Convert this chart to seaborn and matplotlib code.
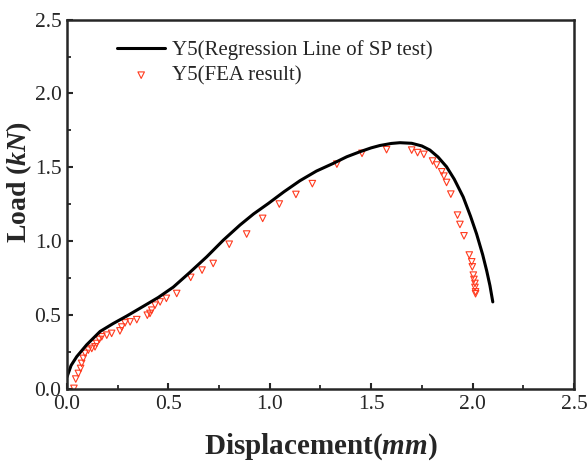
import numpy as np
import pandas as pd
import matplotlib
matplotlib.use("Agg")
import matplotlib.pyplot as plt
from matplotlib.ticker import MultipleLocator
import seaborn as sns

# Regression line of SP test (Y5)
line_x = [0.0, 0.02, 0.048, 0.097, 0.163, 0.228, 0.294, 0.376, 0.45, 0.524, 0.606,
          0.689, 0.771, 0.853, 0.92, 0.993, 1.07, 1.149, 1.23, 1.313, 1.38, 1.445,
          1.50, 1.543, 1.60, 1.642, 1.70, 1.75, 1.79, 1.83, 1.872, 1.91, 1.954,
          1.99, 2.02, 2.05, 2.07, 2.086, 2.10]
line_y = [0.083, 0.16, 0.22, 0.30, 0.39, 0.444, 0.494, 0.56, 0.62, 0.69, 0.79,
          0.895, 1.008, 1.11, 1.185, 1.256, 1.335, 1.41, 1.475, 1.527, 1.572, 1.606,
          1.632, 1.648, 1.662, 1.667, 1.663, 1.645, 1.617, 1.57, 1.504, 1.42, 1.30,
          1.17, 1.05, 0.91, 0.80, 0.70, 0.59]

# FEA result (Y5)
fea_x = [0.034, 0.043, 0.056, 0.067, 0.072, 0.080, 0.089, 0.105, 0.122, 0.138, 0.146,
         0.159, 0.171, 0.196, 0.22, 0.261, 0.27, 0.286, 0.311, 0.344, 0.396, 0.409,
         0.418, 0.434, 0.459, 0.49, 0.541, 0.61, 0.666, 0.721, 0.80, 0.886, 0.965,
         1.047, 1.129, 1.21, 1.331, 1.455, 1.576, 1.70, 1.729, 1.76, 1.803, 1.823,
         1.848, 1.859, 1.872, 1.893, 1.926, 1.938, 1.958, 1.984, 1.996, 1.999, 2.004,
         2.007, 2.012, 2.012, 2.015, 2.015]
fea_y = [0.005, 0.068, 0.106, 0.14, 0.174, 0.208, 0.242, 0.264, 0.275, 0.286, 0.309,
         0.336, 0.354, 0.365, 0.377, 0.394, 0.42, 0.448, 0.455, 0.47, 0.50, 0.512,
         0.534, 0.568, 0.59, 0.614, 0.647, 0.756, 0.805, 0.85, 0.98, 1.049, 1.155,
         1.252, 1.317, 1.39, 1.522, 1.595, 1.62, 1.617, 1.60, 1.588, 1.543, 1.516,
         1.47, 1.441, 1.398, 1.319, 1.177, 1.114, 1.037, 0.907, 0.861, 0.827, 0.771,
         0.742, 0.715, 0.688, 0.658, 0.645]

x_ticks = [0.0, 0.5, 1.0, 1.5, 2.0, 2.5]
y_ticks = [0.0, 0.5, 1.0, 1.5, 2.0, 2.5]

sns.set_style("ticks")
plt.rcParams["font.family"] = ["Liberation Serif", "DejaVu Serif"]
plt.rcParams["mathtext.fontset"] = "custom"
plt.rcParams["mathtext.it"] = "Liberation Serif:italic:bold"
plt.rcParams["mathtext.rm"] = "Liberation Serif:bold"
plt.rcParams["mathtext.bf"] = "Liberation Serif:bold"

fig = plt.figure(figsize=(5.88, 4.66), dpi=100)
ax = fig.add_axes([0.114, 0.165, 0.862, 0.793])

line_df = pd.DataFrame({"x": line_x, "y": line_y})
fea_df = pd.DataFrame({"x": fea_x, "y": fea_y})

sns.lineplot(data=line_df, x="x", y="y", sort=False, color="black", linewidth=2.2,
             ax=ax, label="Y5(Regression Line of SP test)")
sns.scatterplot(data=fea_df, x="x", y="y", marker="v", s=22, facecolor="none",
                edgecolor="#ff3b1f", linewidth=0.8, ax=ax, label="Y5(FEA result)")

ax.set_xlim(0, 2.5)
ax.set_ylim(0, 2.5)
ax.set_xticks(x_ticks)
ax.set_yticks(y_ticks)
ax.set_xticklabels([f"{v:.1f}" for v in x_ticks])
ax.set_yticklabels([f"{v:.1f}" for v in y_ticks])
ax.xaxis.set_minor_locator(MultipleLocator(0.25))
ax.yaxis.set_minor_locator(MultipleLocator(0.25))
ax.tick_params(which="major", direction="in", length=4.5, width=1.5, labelsize=15.5,
               pad=4, top=False, right=False)
ax.tick_params(which="minor", direction="in", length=3, width=1.3, top=False, right=False)

for sp in ax.spines.values():
    sp.set_linewidth(1.8)
    sp.set_visible(True)

ax.set_xlabel("Displacement($mm$)", fontsize=21, fontweight="bold")
ax.set_ylabel("Load ($kN$)", fontsize=20, fontweight="bold")
ax.xaxis.set_label_coords(0.5, -0.115)
ax.yaxis.set_label_coords(-0.066, 0.56)

leg = ax.legend(loc="upper left", bbox_to_anchor=(0.099, 0.945), frameon=False,
                fontsize=15, borderpad=0, borderaxespad=0, handlelength=2.3,
                handletextpad=0.35, labelspacing=0.3)

fig.savefig("out.png", dpi=100)
